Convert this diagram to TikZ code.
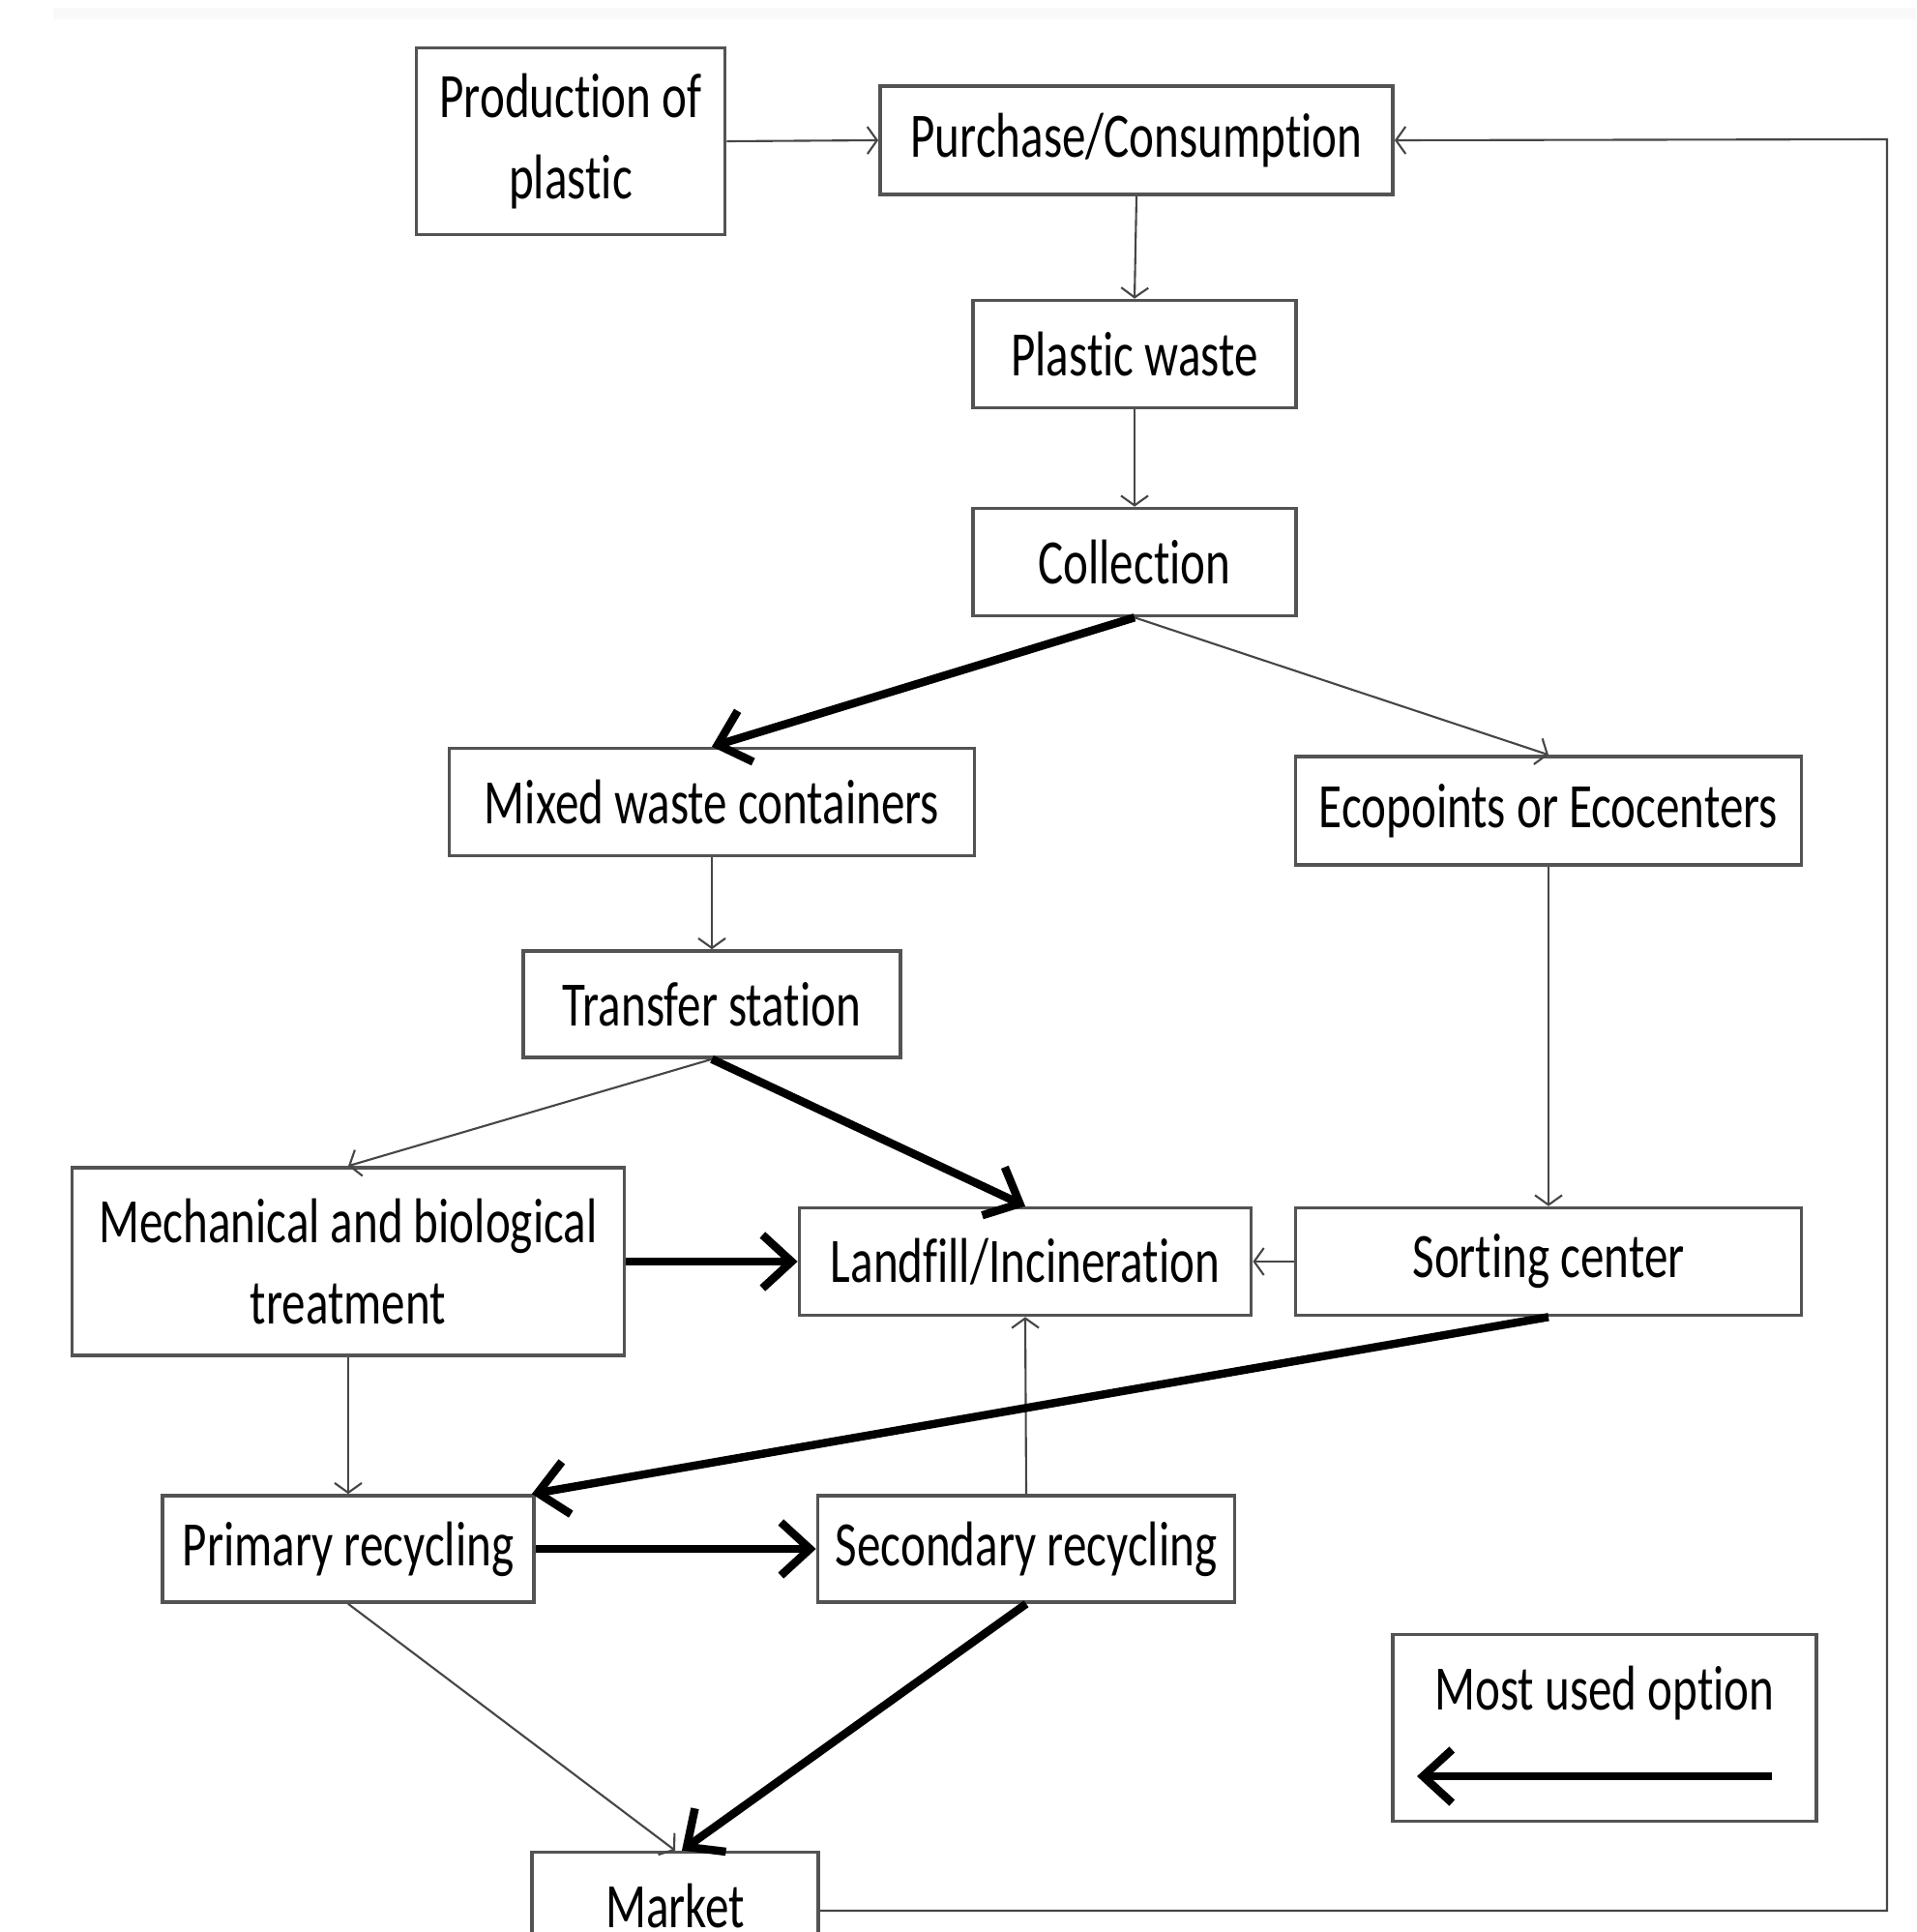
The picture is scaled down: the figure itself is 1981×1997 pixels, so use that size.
\documentclass[tikz,border=0pt]{standalone}
\usepackage{fontspec}
\setmainfont{Carlito}[FakeStretch=0.75, Ligatures=NoCommon]
\usetikzlibrary{arrows.meta}

\begin{document}
\begin{tikzpicture}[x=0.01cm, y=0.01cm,
  font=\fontsize{18.6}{24}\selectfont,
  box/.style={draw=gray!65!black, line width=1pt, fill=white,
    inner sep=0pt, align=center},
  minor/.style={draw=gray!55!black, line width=0.6pt,
    -{Straight Barb[length=0.1cm, width=0.28cm]}},
  major/.style={draw=black, line width=2.4pt,
    -{Straight Barb[length=0.3cm, width=0.55cm]}}]
  \useasboundingbox (0,0) rectangle (1981,-1997);
  \fill[gray!5] (55,-8) rectangle (1981,-20);

  %% boxes, placed at their centres (px of the reference, y downwards)
  \node[box, minimum width=3.19cm, minimum height=1.93cm] (prod) at (590,-146) {Production of\\plastic};
  \node[box, minimum width=5.30cm, minimum height=1.12cm] (purch) at (1175,-145) {Purchase/Consumption};
  \node[box, minimum width=3.34cm, minimum height=1.11cm] (waste) at (1173,-366) {Plastic waste};
  \node[box, minimum width=3.34cm, minimum height=1.11cm] (coll) at (1173,-581) {Collection};
  \node[box, minimum width=5.43cm, minimum height=1.11cm] (mixed) at (736,-829) {Mixed waste containers};
  \node[box, minimum width=5.23cm, minimum height=1.12cm] (eco) at (1601,-838) {Ecopoints or Ecocenters};
  \node[box, minimum width=3.90cm, minimum height=1.10cm] (transfer) at (736,-1038) {Transfer station};
  \node[box, minimum width=5.71cm, minimum height=1.94cm] (mbt) at (360,-1304) {Mechanical and biological\\treatment};
  \node[box, minimum width=4.67cm, minimum height=1.11cm] (landfill) at (1060,-1304) {Landfill/Incineration};
  \node[box, minimum width=5.23cm, minimum height=1.11cm] (sorting) at (1601,-1304) {Sorting center};
  \node[box, minimum width=3.84cm, minimum height=1.10cm] (primary) at (360,-1601) {Primary recycling};
  \node[box, minimum width=4.31cm, minimum height=1.10cm] (secondary) at (1061,-1601) {Secondary recycling};
  \node[box, minimum width=2.96cm, minimum height=1.11cm] (market) at (698,-1970) {Market};

  %% legend
  \node[box, minimum width=4.38cm, minimum height=1.93cm] (legend) at (1659,-1786) {};
  \node (legtext) at (1659,-1750) {Most used option};
  \coordinate (legR) at (1832,-1836);
  \coordinate (legL) at (1465,-1836);
  \coordinate (loop) at (1951,-144);

  %% thin flows
  \draw[minor] (prod.east) -- (purch.west);
  \draw[minor] (purch.south) -- (waste.north);
  \draw[minor] (waste.south) -- (coll.north);
  \draw[minor] (coll.south) -- (eco.north);
  \draw[minor] (mixed.south) -- (transfer.north);
  \draw[minor] (eco.south) -- (sorting.north);
  \draw[minor] (transfer.south) -- (mbt.north);
  \draw[minor] (sorting.west) -- (landfill.east);
  \draw[minor] (mbt.south) -- (primary.north);
  \draw[minor] (secondary.north) -- (landfill.south);
  \draw[minor] (primary.south) -- (market.north);
  \draw[minor] ([yshift=-0.05cm]market.east) -| (loop) -- (purch.east);

  %% most used flows
  \draw[major] (coll.south) -- (mixed.north);
  \draw[major] (transfer.south) -- (landfill.north);
  \draw[major] (mbt.east) -- (landfill.west);
  \draw[major] (sorting.south) -- ([xshift=-0.04cm]primary.north east);
  \draw[major] (primary.east) -- (secondary.west);
  \draw[major] (secondary.south) -- ([xshift=0.07cm]market.north);
  \draw[major] (legR) -- (legL);
\end{tikzpicture}
\end{document}
